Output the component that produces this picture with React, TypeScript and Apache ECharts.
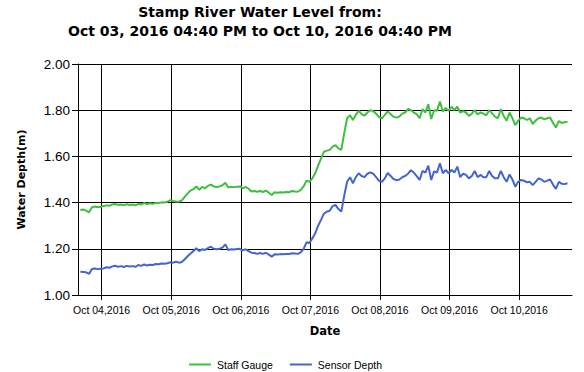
import React, { useEffect, useRef } from "react";
import * as echarts from "echarts";

// Sampling: hourly readings from Oct 03, 2016 16:40 (x = days since Oct 03 00:00)
const START_HOUR = 16 + 40 / 60;
const DAY_LABELS = ["Oct 04,2016", "Oct 05,2016", "Oct 06,2016", "Oct 07,2016", "Oct 08,2016", "Oct 09,2016", "Oct 10,2016"];
const DAY_TICKS = [1, 2, 3, 4, 5, 6, 7];
const Y_TICKS = ["1.00", "1.20", "1.40", "1.60", "1.80", "2.00"];

const staffGauge = [
  1.368, 1.37, 1.365, 1.358, 1.38, 1.383, 1.38, 1.382, 1.385, 1.388,
  1.386, 1.392, 1.394, 1.39, 1.392, 1.389, 1.393, 1.39, 1.392, 1.388,
  1.395, 1.392, 1.398, 1.394, 1.397, 1.395, 1.399, 1.398, 1.401, 1.4,
  1.404, 1.41, 1.407, 1.405, 1.404, 1.41, 1.425, 1.44, 1.452, 1.458,
  1.47, 1.455, 1.468, 1.462, 1.472, 1.478, 1.47, 1.468, 1.47, 1.475,
  1.486, 1.466, 1.468, 1.467, 1.469, 1.47, 1.462, 1.468, 1.46, 1.448,
  1.45, 1.447, 1.45, 1.446, 1.452, 1.443, 1.433, 1.445, 1.443, 1.445,
  1.444, 1.446, 1.445, 1.45, 1.448, 1.447, 1.455, 1.47, 1.495, 1.49,
  1.505, 1.527, 1.56, 1.59, 1.62, 1.625, 1.628, 1.642, 1.649, 1.635,
  1.628, 1.7, 1.765, 1.778, 1.758, 1.78, 1.797, 1.783, 1.776, 1.79,
  1.8, 1.796, 1.785, 1.77, 1.765, 1.78, 1.795, 1.783, 1.772, 1.768,
  1.772, 1.785, 1.79, 1.805, 1.8, 1.79, 1.783, 1.765, 1.805, 1.79,
  1.826, 1.762, 1.8, 1.798, 1.837, 1.794, 1.81, 1.797, 1.815, 1.8,
  1.815, 1.79, 1.796, 1.79, 1.775, 1.785, 1.8, 1.782, 1.79, 1.785,
  1.778, 1.8, 1.786, 1.772, 1.765, 1.805, 1.775, 1.755, 1.79, 1.765,
  1.735, 1.755, 1.768, 1.765, 1.758, 1.765, 1.74, 1.755, 1.765, 1.768,
  1.76, 1.765, 1.768, 1.745, 1.725, 1.753, 1.745, 1.748, 1.75,
];

const sensorDepth = [
  1.101, 1.1, 1.098, 1.091, 1.113, 1.115, 1.112, 1.114, 1.115, 1.12,
  1.118, 1.124, 1.127, 1.122, 1.125, 1.121, 1.126, 1.123, 1.125, 1.122,
  1.13, 1.126, 1.132, 1.128, 1.131, 1.13, 1.134, 1.133, 1.136, 1.135,
  1.137, 1.142, 1.14, 1.144, 1.14, 1.143, 1.155, 1.168, 1.18, 1.19,
  1.202, 1.19, 1.198, 1.195, 1.203, 1.209, 1.2, 1.198, 1.2, 1.205,
  1.219, 1.195, 1.198, 1.197, 1.199, 1.2, 1.193, 1.198, 1.19, 1.183,
  1.182, 1.178, 1.182, 1.178, 1.183, 1.175, 1.166, 1.176, 1.175, 1.177,
  1.176, 1.178, 1.177, 1.181, 1.18, 1.178, 1.185, 1.2, 1.228, 1.225,
  1.245, 1.267, 1.3, 1.325, 1.352, 1.361, 1.365, 1.385, 1.39, 1.372,
  1.361, 1.43, 1.49, 1.51, 1.484, 1.51, 1.527, 1.515, 1.51, 1.525,
  1.531, 1.525, 1.51, 1.494, 1.49, 1.505, 1.528, 1.515, 1.502, 1.497,
  1.5, 1.51, 1.515, 1.525, 1.54, 1.53, 1.515, 1.498, 1.537, 1.53,
  1.56, 1.498, 1.535, 1.53, 1.57, 1.527, 1.542, 1.527, 1.542, 1.53,
  1.556, 1.51, 1.525, 1.52, 1.505, 1.515, 1.537, 1.51, 1.52, 1.51,
  1.51, 1.537, 1.515, 1.505, 1.505, 1.537, 1.51, 1.49, 1.522, 1.5,
  1.469, 1.49, 1.498, 1.495, 1.488, 1.49, 1.476, 1.49, 1.505, 1.5,
  1.49, 1.495, 1.5, 1.478, 1.459, 1.49, 1.482, 1.48, 1.484,
];

const toDays = (i: number) => (START_HOUR + i) / 24;

export default function App() {
  const ref = useRef<HTMLDivElement>(null);
  useEffect(() => {
    document.body.style.margin = "0";
    if (!ref.current) return;
    const chart = echarts.init(ref.current, undefined, { renderer: "svg" });
    const labelFont = "Liberation Sans, Arial, sans-serif";
    chart.setOption({
      animation: false,
      backgroundColor: "#fff",
      graphic: [
        {
          type: "text",
          x: 260,
          y: 2,
          style: {
            text: "Stamp River Water Level from:\nOct 03, 2016 04:40 PM to Oct 10, 2016 04:40 PM",
            font: "bold 14px 'DejaVu Sans'",
            lineHeight: 19,
            textAlign: "center",
            fill: "#000",
          },
        },
      ],
      grid: { left: 78, right: 12, top: 64, bottom: 77, containLabel: false },
      legend: {
        left: 189,
        top: 359,
        padding: 0,
        icon: "rect",
        itemWidth: 22,
        itemHeight: 2,
        itemGap: 17,
        textStyle: { fontFamily: labelFont, fontSize: 10.5, color: "#000", padding: [0, 0, 0, 1] },
        data: ["Staff Gauge", "Sensor Depth"],
      },
      xAxis: {
        type: "value",
        min: 0.661,
        max: 7.759,
        name: "Date",
        nameLocation: "middle",
        nameGap: 30,
        nameTextStyle: { fontFamily: "DejaVu Sans", fontWeight: "bold", fontSize: 11.5, color: "#000" },
        axisLine: { show: true, lineStyle: { color: "#000", width: 1 } },
        axisTick: { show: true, length: 5, lineStyle: { color: "#000" }, customValues: DAY_TICKS },
        axisLabel: {
          margin: 9,
          color: "#000",
          fontFamily: labelFont,
          fontSize: 10.5,
          customValues: DAY_TICKS,
          hideOverlap: false,
          formatter: (v: number) => {
            const idx = DAY_TICKS.findIndex((d) => Math.abs(d - v) < 1e-6);
            return idx >= 0 ? DAY_LABELS[idx] : "";
          },
        },
        splitLine: { show: true, lineStyle: { color: "#000", width: 1 } },
      },
      yAxis: {
        type: "value",
        min: 1,
        max: 2,
        interval: 0.2,
        name: "Water Depth(m)",
        nameLocation: "middle",
        nameGap: 51,
        nameRotate: 90,
        nameTextStyle: { fontFamily: "DejaVu Sans", fontWeight: "bold", fontSize: 11, color: "#000" },
        axisLine: { show: true, lineStyle: { color: "#000", width: 1 } },
        axisTick: { show: true, length: 6, lineStyle: { color: "#000" } },
        axisLabel: {
          margin: 8,
          color: "#000",
          fontFamily: labelFont,
          fontSize: 13.5,
          formatter: (v: number) => Y_TICKS[Math.round((v - 1) / 0.2)] ?? v.toFixed(2),
        },
        splitLine: { show: true, lineStyle: { color: "#000", width: 1 } },
      },
      series: [
        {
          name: "Staff Gauge",
          type: "line",
          showSymbol: false,
          symbol: "none",
          lineStyle: { width: 2, color: "#3fbf3f" },
          itemStyle: { color: "#3fbf3f" },
          data: staffGauge.map((v, i) => [toDays(i), v]),
        },
        {
          name: "Sensor Depth",
          type: "line",
          showSymbol: false,
          symbol: "none",
          lineStyle: { width: 2, color: "#4466cc" },
          itemStyle: { color: "#4466cc" },
          data: sensorDepth.map((v, i) => [toDays(i), v]),
        },
      ],
    });
    return () => chart.dispose();
  }, []);
  return <div ref={ref} style={{ width: 584, height: 372 }} />;
}
